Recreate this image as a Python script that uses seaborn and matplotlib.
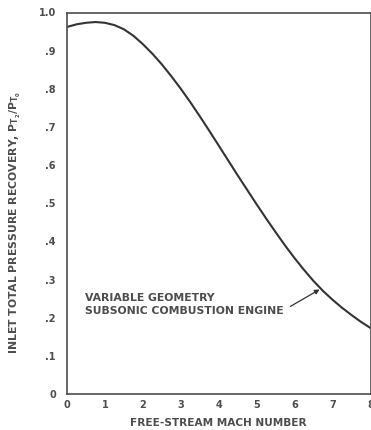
import matplotlib
matplotlib.use("Agg")
import matplotlib.pyplot as plt
import seaborn as sns
import pandas as pd

# Inlet total pressure recovery vs. free-stream Mach number
mach = [0.0, 0.25, 0.5, 0.75, 1.0, 1.25, 1.5, 1.75, 2.0, 2.25, 2.5, 2.75, 3.0,
        3.25, 3.5, 3.75, 4.0, 4.25, 4.5, 4.75, 5.0, 5.25, 5.5, 5.75, 6.0,
        6.25, 6.5, 6.75, 7.0, 7.25, 7.5, 7.75, 8.0]
recovery = [0.962, 0.969, 0.973, 0.975, 0.973, 0.967, 0.956, 0.939, 0.917, 0.892,
            0.864, 0.833, 0.800, 0.765, 0.728, 0.690, 0.651, 0.612, 0.573, 0.535,
            0.497, 0.460, 0.424, 0.389, 0.356, 0.325, 0.296, 0.270, 0.247, 0.226,
            0.207, 0.189, 0.173]

x_ticks = [0, 1, 2, 3, 4, 5, 6, 7, 8]
y_ticks = [0.0, 0.1, 0.2, 0.3, 0.4, 0.5, 0.6, 0.7, 0.8, 0.9, 1.0]
y_tick_labels = ["0", ".1", ".2", ".3", ".4", ".5", ".6", ".7", ".8", ".9", "1.0"]

curve_label = "VARIABLE GEOMETRY\nSUBSONIC COMBUSTION ENGINE"
x_label = "FREE-STREAM MACH NUMBER"
y_label = r"INLET TOTAL PRESSURE RECOVERY, $\mathbf{P_{T_2}/P_{T_0}}$"

df = pd.DataFrame({"mach": mach, "recovery": recovery})

sns.set_theme(style="white")
plt.rcParams["font.family"] = ["DejaVu Sans"]
plt.rcParams["mathtext.fontset"] = "dejavusans"

ink = "#4d4d4d"
fig = plt.figure(figsize=(3.71, 4.30), dpi=100)
ax = fig.add_axes([67 / 371, 1 - 394 / 430, (370.5 - 67) / 371, (394 - 12.5) / 430])

sns.lineplot(data=df, x="mach", y="recovery", ax=ax, color="#333333", linewidth=1.5)

ax.set_xlim(0, 8)
ax.set_ylim(0, 1.0)
ax.set_xticks(x_ticks)
ax.set_xticklabels([str(t) for t in x_ticks])
ax.set_yticks(y_ticks)
ax.set_yticklabels(y_tick_labels)
ax.tick_params(axis="both", direction="in", length=11, width=1.0, color=ink,
               labelcolor=ink, labelsize=7)
ax.tick_params(axis="x", pad=4)
ax.tick_params(axis="y", pad=8)
for lab in ax.get_xticklabels() + ax.get_yticklabels():
    lab.set_fontweight("bold")

for side in ["left", "bottom", "top", "right"]:
    ax.spines[side].set_visible(True)
    ax.spines[side].set_color(ink)
    ax.spines[side].set_linewidth(1.2)

ax.set_xlabel(x_label, fontsize=7.6, fontweight="bold", color=ink, labelpad=6)
ax.set_ylabel(y_label, fontsize=7.8, fontweight="bold", color=ink)
ax.yaxis.set_label_coords(-0.145, 0.45)

ax.annotate(curve_label, xy=(6.66, 0.274), xytext=(0.47, 0.234),
            fontsize=7.8, fontweight="bold", color=ink, ha="left", va="center",
            linespacing=1.35,
            arrowprops=dict(arrowstyle="-|>", color="#333333", lw=0.9,
                            mutation_scale=7, shrinkA=3, shrinkB=0,
                            relpos=(1.0, 0.25)))

fig.savefig("out.png", dpi=100)
